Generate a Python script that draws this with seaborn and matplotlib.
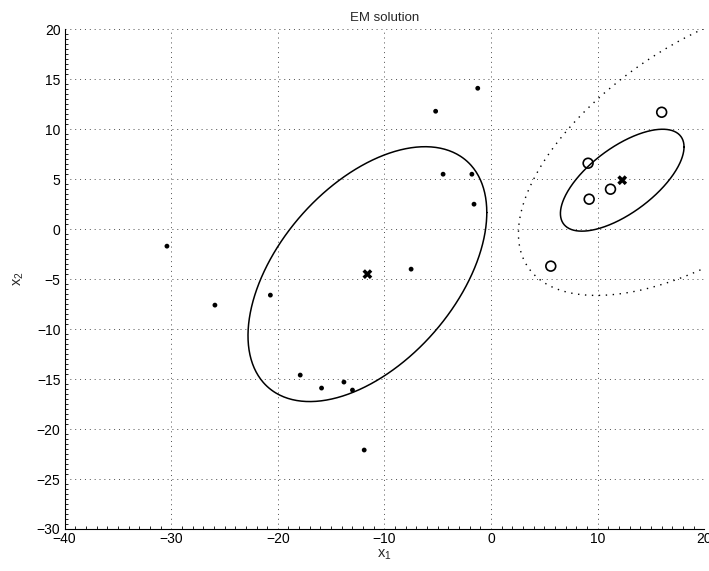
import numpy as np
import pandas as pd
import matplotlib
matplotlib.use('Agg')
import matplotlib.pyplot as plt
from matplotlib.ticker import AutoMinorLocator
import seaborn as sns

# cluster 1 points (small dots)
c1_x = [-30.4, -25.9, -20.7, -17.9, -15.9, -13.8, -13.0, -11.9, -7.5, -4.5, -1.8, -1.6, -5.2, -1.25]
c1_y = [-1.7, -7.6, -6.6, -14.6, -15.9, -15.3, -16.1, -22.1, -4.0, 5.5, 5.5, 2.5, 11.8, 14.1]

# cluster 2 points (open circles)
c2_x = [16.0, 9.1, 11.2, 9.2, 5.6]
c2_y = [11.7, 6.6, 4.0, 3.0, -3.7]

# estimated means (crosses)
mu_x = [-11.6, 12.3]
mu_y = [-4.5, 4.9]

# covariance contours
cov1 = [[125.4, 69.0], [69.0, 162.6]]
cov2 = [[33.6, 19.3], [19.3, 26.0]]
mu3 = [20.0, 8.1]
cov3 = [[304.0, 149.0], [149.0, 217.0]]


def ellipse(mu, cov, n=400):
    t = np.linspace(0, 2 * np.pi, n)
    L = np.linalg.cholesky(np.array(cov))
    pts = L @ np.vstack([np.cos(t), np.sin(t)])
    return pd.DataFrame({'x': pts[0] + mu[0], 'y': pts[1] + mu[1]})


sns.set_style('white')
plt.rcParams['font.family'] = ['Liberation Sans', 'DejaVu Sans']
plt.rcParams['mathtext.default'] = 'regular'

fig = plt.figure(figsize=(7.09, 5.71), dpi=100)
ax = fig.add_axes([0.0911, 0.0736, 0.9023, 0.8751])

e1 = ellipse([mu_x[0], mu_y[0]], cov1)
e2 = ellipse([mu_x[1], mu_y[1]], cov2)
e3 = ellipse(mu3, cov3)
sns.lineplot(data=e1, x='x', y='y', sort=False, estimator=None, color='black', lw=1.1, ax=ax)
sns.lineplot(data=e2, x='x', y='y', sort=False, estimator=None, color='black', lw=1.1, ax=ax)
sns.lineplot(data=e3, x='x', y='y', sort=False, estimator=None, color='black', lw=1.0,
             linestyle=(0, (1, 4)), ax=ax)

sns.scatterplot(x=c1_x, y=c1_y, color='black', s=12, edgecolor='none', ax=ax)
sns.scatterplot(x=c2_x, y=c2_y, facecolor='none', edgecolor='black', linewidth=1.2,
                s=50, marker='o', ax=ax)
sns.scatterplot(x=mu_x, y=mu_y, color='black', marker='X', s=50, edgecolor='none', ax=ax)

ax.set_xlim(-40, 20)
ax.set_ylim(-30, 20)
ax.set_xticks(np.arange(-40, 21, 10))
ax.set_yticks(np.arange(-30, 21, 5))
ax.xaxis.set_minor_locator(AutoMinorLocator(10))
ax.yaxis.set_minor_locator(AutoMinorLocator(10))
ax.grid(True, which='major', color='0.3', linestyle=(0, (1, 4)), linewidth=0.7)
ax.tick_params(which='major', direction='in', length=4, width=0.8, labelsize=10,
               colors='black', pad=3)
ax.tick_params(axis='x', which='major', pad=2)
ax.tick_params(which='minor', direction='in', length=2, width=0.6, colors='black')
ax.tick_params(top=False, right=False)
ax.tick_params(which='minor', top=False, right=False, left=True, bottom=True)

for s in ['top', 'right']:
    ax.spines[s].set_visible(False)
for s in ['left', 'bottom']:
    ax.spines[s].set_color('black')
    ax.spines[s].set_linewidth(0.8)

ax.set_xlabel('x$_1$', fontsize=10.5, labelpad=1)
ax.set_ylabel('x$_2$', fontsize=10.5, labelpad=8)
ax.set_title('EM solution', fontsize=9.5, pad=6)

fig.savefig('out.png', dpi=100)
